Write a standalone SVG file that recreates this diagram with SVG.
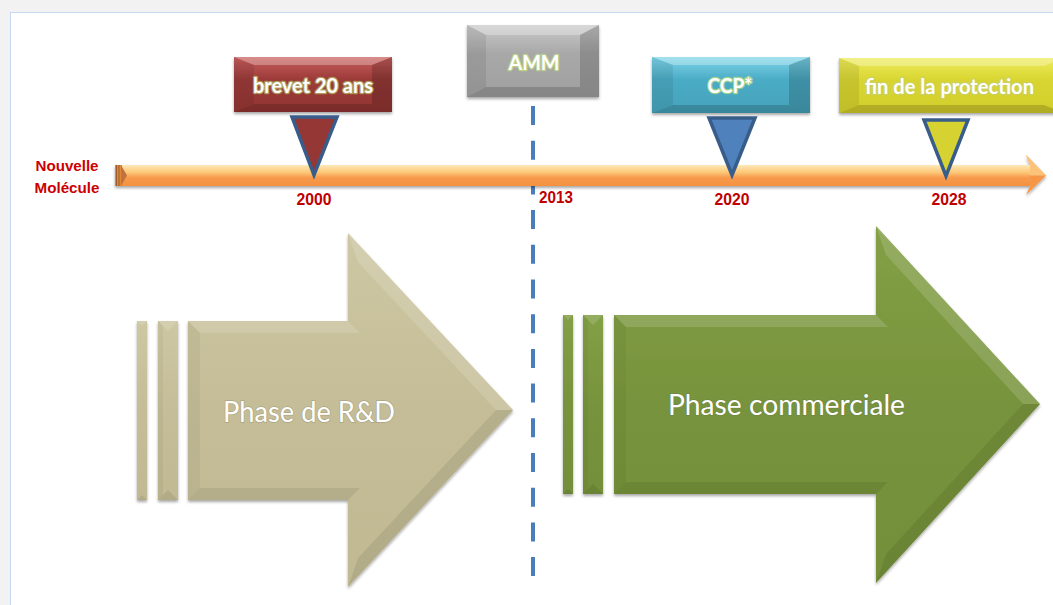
<svg xmlns="http://www.w3.org/2000/svg" width="1053" height="605" viewBox="0 0 1053 605">
<defs>
<style>
.yr{font-family:"Liberation Sans",Arial,sans-serif;font-weight:bold;font-size:17px;fill:#c00000;text-anchor:middle}
.lbl{font-family:Lato,"Open Sans",sans-serif;font-weight:bold;font-size:20px;fill:#ffffff;text-anchor:middle;paint-order:stroke;stroke:#b8c46a;stroke-opacity:0.7;stroke-width:2.5px;stroke-linejoin:round}
.ph{font-family:Lato,"Open Sans",sans-serif;font-size:28px;fill:#ffffff;text-anchor:middle;paint-order:stroke;stroke:#6a6a50;stroke-opacity:0.3;stroke-width:1.5px}
.tri{stroke:#385d8a;stroke-width:3.5;stroke-linejoin:miter}
.bl{fill:#ffffff;fill-opacity:0.28}
.bd{fill:#000000;fill-opacity:0.16}
.bs{fill:#000000;fill-opacity:0.08}
.pl{fill:#ffffff;fill-opacity:0.14}
.pd{fill:#000000;fill-opacity:0.07}
.ps{fill:#000000;fill-opacity:0.04}
.nm{font-family:"Liberation Sans",Arial,sans-serif;font-weight:bold;font-size:15px;fill:#cc0000;text-anchor:middle}
</style>
<filter id="sh" x="-10%" y="-10%" width="120%" height="130%">
<feDropShadow dx="0" dy="2" stdDeviation="1.5" flood-color="#000" flood-opacity="0.35"/>
</filter>
<linearGradient id="gBar" x1="0" y1="0" x2="0" y2="1">
<stop offset="0" stop-color="#fde9b8"/>
<stop offset="0.35" stop-color="#fcc877"/>
<stop offset="0.6" stop-color="#f79a4c"/>
<stop offset="1" stop-color="#f49140"/>
</linearGradient>
<linearGradient id="gRed" x1="0" y1="0" x2="0" y2="1">
<stop offset="0" stop-color="#c9605e"/><stop offset="0.4" stop-color="#9c3b39"/><stop offset="1" stop-color="#923533"/>
</linearGradient>
<linearGradient id="gGray" x1="0" y1="0" x2="0" y2="1">
<stop offset="0" stop-color="#c9c9c9"/><stop offset="0.4" stop-color="#a8a8a8"/><stop offset="1" stop-color="#a0a0a0"/>
</linearGradient>
<linearGradient id="gBlue" x1="0" y1="0" x2="0" y2="1">
<stop offset="0" stop-color="#7fd6ea"/><stop offset="0.4" stop-color="#4bacc6"/><stop offset="1" stop-color="#45a2ba"/>
</linearGradient>
<linearGradient id="gYel" x1="0" y1="0" x2="0" y2="1">
<stop offset="0" stop-color="#eeec5a"/><stop offset="0.4" stop-color="#d8d532"/><stop offset="1" stop-color="#d2cf2c"/>
</linearGradient>
<linearGradient id="gTan" x1="0" y1="0" x2="0" y2="1">
<stop offset="0" stop-color="#cdc7a3"/><stop offset="0.5" stop-color="#c4bd97"/><stop offset="1" stop-color="#c0b992"/>
</linearGradient>
<linearGradient id="gGrn" x1="0" y1="0" x2="0" y2="1">
<stop offset="0" stop-color="#84a046"/><stop offset="0.5" stop-color="#77933c"/><stop offset="1" stop-color="#738f3a"/>
</linearGradient>
</defs>

<rect x="0" y="0" width="1053" height="605" fill="#f2f2f2"/>
<rect x="10.5" y="12.5" width="1050" height="600" fill="#ffffff" stroke="#c6d9f1" stroke-width="1"/>

<g id="connectors">
<line x1="533" y1="106" x2="533" y2="578" stroke="#4a7ebb" stroke-width="4" stroke-dasharray="19 15.7"/>
</g>

<g id="timeline" filter="url(#sh)">
<rect x="118" y="165" width="912" height="21" fill="url(#gBar)"/>
<polygon points="1026,155 1046,175.5 1026,195 1030,186 1030,165" fill="#f79646"/>
<polygon points="1026,155 1046,175.5 1030,175.5 1030,165" fill="#fbc27a"/>
<rect x="115" y="165" width="7" height="21" fill="#e0883e"/>
<line x1="116.5" y1="165" x2="116.5" y2="186" stroke="#9c5a25" stroke-width="1"/>
<line x1="119" y1="165" x2="119" y2="186" stroke="#9c5a25" stroke-width="1"/>
<polygon points="121,165 127,175.5 121,186" fill="#c0733a"/>
</g>

<g id="label-nouvelle">
<text class="nm" x="67" y="171" textLength="63" lengthAdjust="spacingAndGlyphs">Nouvelle</text>
<text class="nm" x="67" y="193" textLength="65" lengthAdjust="spacingAndGlyphs">Molécule</text>
</g>

<g id="node-brevet">
<g filter="url(#sh)">
<rect x="234" y="57" width="158" height="55" fill="url(#gRed)"/>
<polygon class="bl" points="234,57 392,57 372,65 254,65"/>
<polygon class="bd" points="234,112 392,112 372,104 254,104"/>
<polygon class="bs" points="234,57 254,65 254,104 234,112"/>
<polygon class="bd" points="392,57 372,65 372,104 392,112"/>
</g>
<text class="lbl" x="313" y="93" textLength="120" lengthAdjust="spacingAndGlyphs">brevet 20 ans</text>
<polygon class="tri" points="292,117 337,117 314,175" fill="#953735"/>
<text class="yr" x="314" y="205" textLength="35" lengthAdjust="spacingAndGlyphs">2000</text>
</g>

<g id="node-amm">
<g filter="url(#sh)">
<rect x="467" y="25" width="132" height="72" fill="url(#gGray)"/>
<polygon class="bl" points="467,25 599,25 580,35 486,35"/>
<polygon class="bd" points="467,97 599,97 580,87 486,87"/>
<polygon class="bs" points="467,25 486,35 486,87 467,97"/>
<polygon class="bd" points="599,25 580,35 580,87 599,97"/>
</g>
<text class="lbl" x="534" y="70" textLength="51" lengthAdjust="spacingAndGlyphs" style="stroke:#c6e07a">AMM</text>
<text class="yr" x="556" y="203" textLength="34" lengthAdjust="spacingAndGlyphs">2013</text>
</g>

<g id="node-ccp">
<g filter="url(#sh)">
<rect x="652" y="57" width="158" height="56" fill="url(#gBlue)"/>
<polygon class="bl" points="652,57 810,57 789,65 673,65"/>
<polygon class="bd" points="652,113 810,113 789,105 673,105"/>
<polygon class="bs" points="652,57 673,65 673,105 652,113"/>
<polygon class="bd" points="810,57 789,65 789,105 810,113"/>
</g>
<text class="lbl" x="730" y="93" textLength="45" lengthAdjust="spacingAndGlyphs" style="stroke:#c6e07a">CCP*</text>
<polygon class="tri" points="709,118 755,118 732,175" fill="#4f81bd"/>
<text class="yr" x="732" y="205" textLength="35" lengthAdjust="spacingAndGlyphs">2020</text>
</g>

<g id="node-fin">
<g filter="url(#sh)">
<rect x="839" y="58" width="225" height="55" fill="url(#gYel)"/>
<polygon class="bl" points="839,58 1064,58 1044,66 859,66"/>
<polygon class="bd" points="839,113 1064,113 1044,105 859,105"/>
<polygon class="bs" points="839,58 859,66 859,105 839,113"/>
</g>
<text class="lbl" x="949.5" y="94" textLength="169" lengthAdjust="spacingAndGlyphs" style="stroke:#c8cf70">fin de la protection</text>
<polygon class="tri" points="924,120 968,120 946,176" fill="#d6d232"/>
<text class="yr" x="949" y="205" textLength="35" lengthAdjust="spacingAndGlyphs">2028</text>
</g>

<g id="node-rd">
<g filter="url(#sh)">
<rect x="137" y="321" width="10" height="179" fill="url(#gTan)"/>
<polygon class="pl" points="137,321 147,321 142,326"/>
<polygon class="pd" points="137,500 147,500 142,495"/>
<rect x="158" y="321" width="20" height="179" fill="url(#gTan)"/>
<polygon class="pl" points="158,321 178,321 168,331"/>
<polygon class="ps" points="158,321 163,326 163,495 158,500"/>
<polygon class="pd" points="158,500 178,500 168,490"/>
<polygon points="188,321 348,321 348,233 513,410 348,587 348,500 188,500" fill="url(#gTan)"/>
<polygon class="pl" points="188,321 348,321 360,333 200,333"/>
<polygon class="pl" points="348,233 513,410 496,410 358,262"/>
<polygon class="ps" points="188,321 200,333 200,488 188,500"/>
<polygon class="pd" points="188,500 348,500 360,488 200,488"/>
<polygon class="pd" points="348,587 513,410 496,410 358,558"/>
</g>
<text class="ph" x="309" y="422" textLength="172" lengthAdjust="spacingAndGlyphs">Phase de R&amp;D</text>
</g>

<g id="node-commerciale">
<g filter="url(#sh)">
<rect x="563" y="315" width="10" height="179" fill="url(#gGrn)"/>
<polygon class="pl" points="563,315 573,315 568,320"/>
<polygon class="pd" points="563,494 573,494 568,489"/>
<rect x="583" y="315" width="20" height="179" fill="url(#gGrn)"/>
<polygon class="pl" points="583,315 603,315 593,325"/>
<polygon class="ps" points="583,315 588,320 588,489 583,494"/>
<polygon class="pd" points="583,494 603,494 593,484"/>
<polygon points="614,315 876,315 876,226 1040,404 876,583 876,494 614,494" fill="url(#gGrn)"/>
<polygon class="pl" points="614,315 876,315 888,327 626,327"/>
<polygon class="pl" points="876,226 1040,404 1023,404 886,255"/>
<polygon class="ps" points="614,315 626,327 626,482 614,494"/>
<polygon class="pd" points="614,494 876,494 888,482 626,482"/>
<polygon class="pd" points="876,583 1040,404 1023,404 886,554"/>
</g>
<text class="ph" x="786.5" y="415" textLength="237" lengthAdjust="spacingAndGlyphs">Phase commerciale</text>
</g>
</svg>
